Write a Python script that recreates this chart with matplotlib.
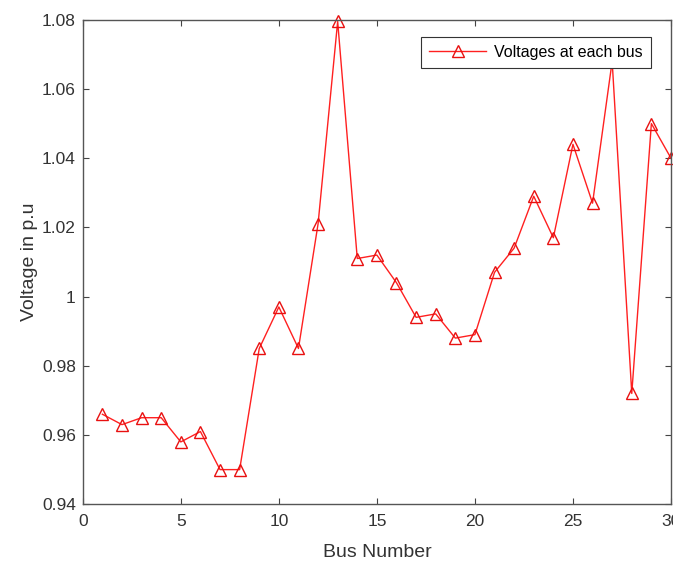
import matplotlib
matplotlib.use('Agg')
import matplotlib.pyplot as plt

plt.rcParams['font.family'] = ['Liberation Sans', 'DejaVu Sans']

bus = list(range(1, 31))
voltage = [0.966, 0.963, 0.965, 0.965, 0.958, 0.961, 0.950, 0.950, 0.985, 0.997,
           0.985, 1.021, 1.0795, 1.011, 1.012, 1.004, 0.994, 0.995, 0.988, 0.989,
           1.007, 1.014, 1.029, 1.017, 1.044, 1.027, 1.068, 0.972, 1.050, 1.040]

xticks = [0, 5, 10, 15, 20, 25, 30]
yticks = [0.94, 0.96, 0.98, 1.0, 1.02, 1.04, 1.06, 1.08]
ytick_labels = ['0.94', '0.96', '0.98', '1', '1.02', '1.04', '1.06', '1.08']

fig = plt.figure(figsize=(6.73, 5.64), dpi=100)
ax = fig.add_axes([0.123, 0.106, 0.874, 0.859])

ax.plot(bus, voltage, '-^', color='#ff2020', lw=1.0, markersize=8,
        markerfacecolor='none', markeredgecolor='#e81010', markeredgewidth=1.0,
        label='Voltages at each bus', clip_on=False)

ax.set_xlim(0, 30)
ax.set_ylim(0.94, 1.08)
ax.set_xticks(xticks)
ax.set_yticks(yticks)
ax.set_yticklabels(ytick_labels)
ax.tick_params(direction='in', top=True, right=True, length=4, width=0.8,
               colors='#444444', labelsize=12.5, labelcolor='#333333')
ax.tick_params(axis='x', pad=7)
ax.tick_params(axis='y', pad=5)
for s in ax.spines.values():
    s.set_color('#555555')
    s.set_linewidth(1.0)

ax.set_xlabel('Bus Number', fontsize=14, color='#333333', labelpad=11)
ax.set_ylabel('Voltage in p.u', fontsize=14, color='#333333', labelpad=3)

leg = ax.legend(loc='upper right', bbox_to_anchor=(0.966, 0.965), fontsize=11.5,
                fancybox=False, framealpha=1, edgecolor='#333333',
                handlelength=3.6, handletextpad=0.5, borderaxespad=0,
                borderpad=0.5)
leg.get_frame().set_linewidth(0.8)

fig.savefig('out.png', dpi=100)
